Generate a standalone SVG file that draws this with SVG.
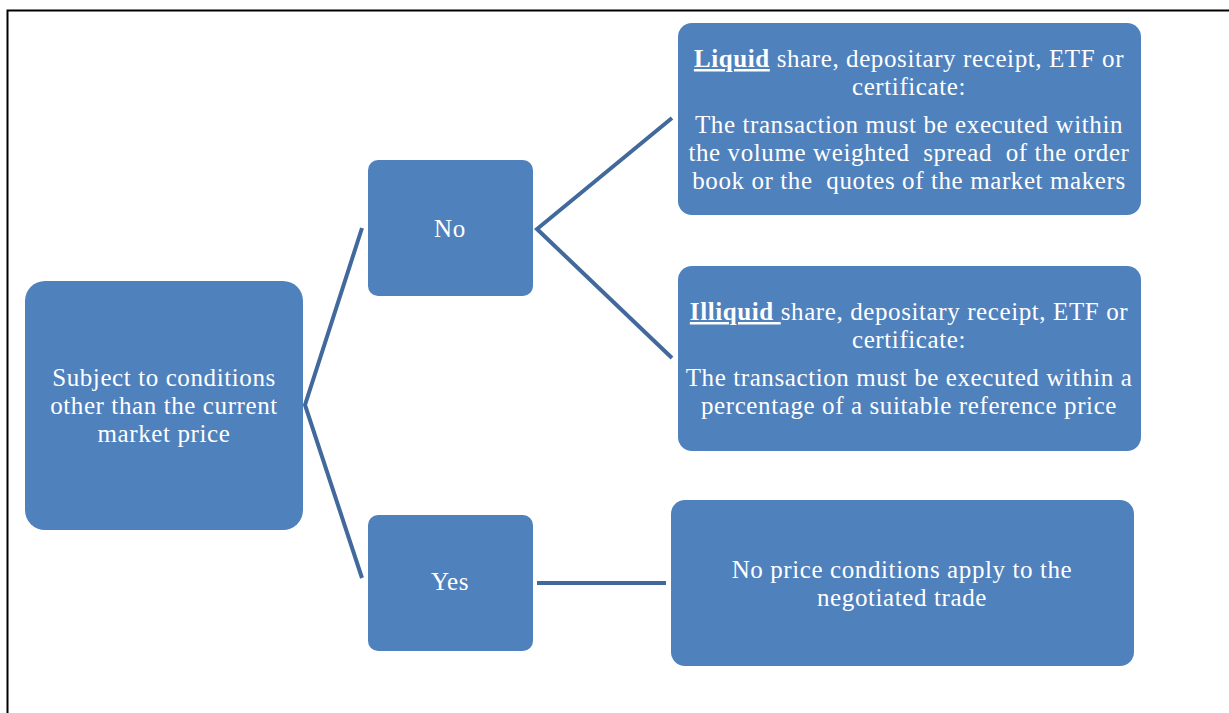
<svg xmlns="http://www.w3.org/2000/svg" width="1229" height="713" viewBox="0 0 1229 713">
<style>
.box{fill:#4f81bd;}
.t{font-family:"Liberation Serif","Times New Roman",serif;font-size:25px;letter-spacing:0.6px;fill:#fff;text-anchor:middle;}
.b{font-weight:bold;text-decoration:underline;}
.c{stroke:#41699c;stroke-width:4;fill:none;}
</style>
<rect x="0" y="0" width="1229" height="713" fill="#fff"/>
<path d="M7.5,713 V10.5 H1229" fill="none" stroke="#000" stroke-width="2"/>
<g id="connectors">
<path class="c" d="M362,228 L305,405 L362,578"/>
<path class="c" d="M672,118 L537,229 L672,358"/>
<path class="c" d="M537,583 H666"/>
</g>
<g id="root">
<rect class="box" x="25" y="281" width="278" height="249" rx="20"/>
<text class="t" x="164" y="386">Subject to conditions</text>
<text class="t" x="164" y="414">other than the current</text>
<text class="t" x="164" y="442">market price</text>
</g>
<g id="no">
<rect class="box" x="368" y="160" width="165" height="136" rx="10"/>
<text class="t" x="450" y="237">No</text>
</g>
<g id="yes">
<rect class="box" x="368" y="515" width="165" height="136" rx="10"/>
<text class="t" x="450" y="590">Yes</text>
</g>
<g id="liquid">
<rect class="box" x="678" y="23" width="463" height="192" rx="14"/>
<text class="t" x="909" y="67" xml:space="preserve"><tspan class="b">Liquid</tspan> share, depositary receipt, ETF or</text>
<text class="t" x="909" y="95">certificate:</text>
<text class="t" x="909" y="133">The transaction must be executed within</text>
<text class="t" x="909" y="161" xml:space="preserve">the volume weighted  spread  of the order</text>
<text class="t" x="909" y="189" xml:space="preserve">book or the  quotes of the market makers</text>
</g>
<g id="illiquid">
<rect class="box" x="678" y="266" width="463" height="185" rx="14"/>
<text class="t" x="909" y="320" xml:space="preserve"><tspan class="b">Illiquid </tspan>share, depositary receipt, ETF or</text>
<text class="t" x="909" y="348">certificate:</text>
<text class="t" x="909" y="386">The transaction must be executed within a</text>
<text class="t" x="909" y="414">percentage of a suitable reference price</text>
</g>
<g id="noprice">
<rect class="box" x="671" y="500" width="463" height="166" rx="14"/>
<text class="t" x="902" y="578">No price conditions apply to the</text>
<text class="t" x="902" y="606">negotiated trade</text>
</g>
</svg>
